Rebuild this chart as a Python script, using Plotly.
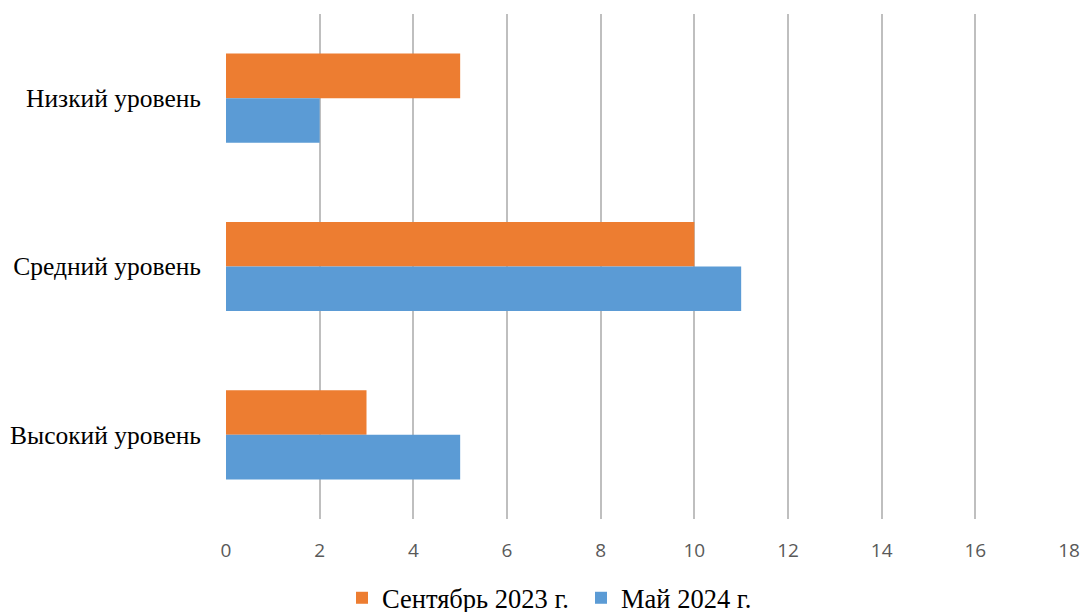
import plotly.graph_objects as go

categories = ["Низкий уровень", "Средний уровень", "Высокий уровень"]
sep_2023 = [5, 10, 3]
may_2024 = [2, 11, 5]
series_names = ["Сентябрь 2023 г.", "Май 2024 г."]
x_ticks = [0, 2, 4, 6, 8, 10, 12, 14, 16, 18]

fig = go.Figure()
fig.add_trace(go.Bar(y=categories, x=sep_2023, name=series_names[0], orientation="h",
                     marker=dict(color="#ED7D31", line=dict(width=0))))
fig.add_trace(go.Bar(y=categories, x=may_2024, name=series_names[1], orientation="h",
                     marker=dict(color="#5B9BD5", line=dict(width=0))))

fig.update_layout(
    width=1084, height=612,
    margin=dict(l=226, r=15, t=14, b=93, autoexpand=False),
    paper_bgcolor="white", plot_bgcolor="white",
    barmode="group", bargap=0.47, bargroupgap=0,
    showlegend=True,
    legend=dict(orientation="h", x=0.1376, xanchor="left", y=-0.109, yanchor="top",
                font=dict(family="Liberation Serif", size=26.5, color="#000000"),
                entrywidth=194, entrywidthmode="pixels", tracegroupgap=0),
    xaxis=dict(range=[0, 18], tickvals=x_ticks, showgrid=True, gridcolor="#BFBFBF", gridwidth=1.5,
               zeroline=False, showline=False, ticks="",
               tickfont=dict(family="Open Sans", size=19, color="#595959"),
               ticklabelstandoff=18),
    yaxis=dict(autorange="reversed", showgrid=False, zeroline=False, showline=False, ticks="",
               tickfont=dict(family="Liberation Serif", size=25.5, color="#000000"),
               ticklabelstandoff=24),
)

fig.write_html(
    "out.html",
    config={"displayModeBar": False},
    post_script="document.body.style.margin='0';document.body.style.overflow='hidden';",
)
